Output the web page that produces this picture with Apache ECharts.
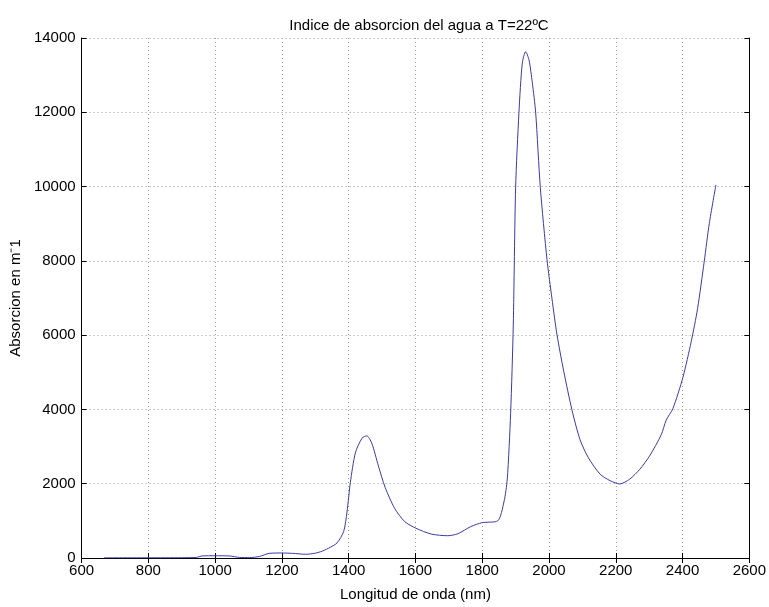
<!DOCTYPE html>
<html>
<head>
<meta charset="utf-8">
<script src="https://cdn.jsdelivr.net/npm/echarts@6/dist/echarts.min.js"></script>
<style>
  html, body { margin: 0; padding: 0; background: #fff; }
  #main { width: 769px; height: 607px; }
</style>
</head>
<body>
<div id="main"></div>
<script>
var longitudes = [667, 700, 800, 900, 944, 960, 1000, 1043, 1073, 1103, 1132, 1162, 1200, 1232, 1271, 1300,
  1321, 1345, 1365, 1385, 1395, 1405, 1420, 1440, 1454, 1469, 1489, 1509, 1538, 1568, 1601, 1648,
  1697, 1727, 1766, 1800, 1846, 1865, 1875, 1885, 1893, 1900, 1910, 1920, 1930, 1940, 1950, 1960,
  1974, 1994, 2009, 2024, 2044, 2069, 2093, 2118, 2153, 2183, 2212, 2242, 2272, 2301, 2336, 2351,
  2371, 2401, 2426, 2445, 2465, 2480, 2500];
var absorcion = [5, 5, 5, 8, 15, 55, 60, 55, 15, 12, 40, 125, 135, 125, 100, 130,
  185, 290, 405, 715, 1243, 2037, 2830, 3227, 3290, 3095, 2478, 1905, 1330, 979, 802, 643,
  600, 653, 847, 952, 997, 1508, 2124, 3889, 6270, 9974, 12000, 13325, 13632, 13413, 12796, 12000,
  9974, 8034, 6976, 6005, 5034, 3976, 3183, 2698, 2257, 2082, 1993, 2124, 2389, 2743, 3315, 3712,
  4021, 4860, 5828, 6711, 7989, 9003, 10045];

var ticksX = { min: 600, max: 2600, interval: 200 };
var ticksY = { min: 0, max: 14000, interval: 2000 };

var puntos = longitudes.map(function (x, i) { return [x, absorcion[i]]; });

var chart = echarts.init(document.getElementById('main'), null, { renderer: 'canvas' });

var fuente = 'Liberation Sans, Arial, sans-serif';
var gridLinea = { show: true, lineStyle: { color: '#9a9a9a', type: [1, 3], width: 1 } };
var sinComas = function (v) { return String(v); };

var option = {
  animation: false,
  title: {
    text: 'Indice de absorcion del agua a T=22ºC',
    left: 414,
    top: 13,
    textAlign: 'center',
    textStyle: { fontFamily: fuente, fontSize: 15, fontWeight: 'normal', color: '#000' }
  },
  grid: { left: 77, right: 18, top: 38, bottom: 40, containLabel: false },
  xAxis: [
    {
      type: 'value',
      min: ticksX.min, max: ticksX.max, interval: ticksX.interval,
      position: 'bottom',
      name: 'Longitud de onda (nm)',
      nameLocation: 'middle',
      nameGap: 29,
      nameTextStyle: { fontFamily: fuente, fontSize: 15, color: '#000' },
      axisLine: { lineStyle: { color: '#000', width: 1 } },
      axisTick: { inside: true, length: 5, lineStyle: { color: '#000' } },
      axisLabel: { fontFamily: fuente, fontSize: 15, color: '#000', margin: 5, formatter: sinComas },
      splitLine: gridLinea
    },
    {
      type: 'value',
      min: ticksX.min, max: ticksX.max, interval: ticksX.interval,
      position: 'top',
      axisLine: { show: true, lineStyle: { color: '#000', width: 1 } },
      axisTick: { show: true, inside: true, length: 5, lineStyle: { color: '#000' } },
      axisLabel: { show: false },
      splitLine: { show: false }
    }
  ],
  yAxis: [
    {
      type: 'value',
      min: ticksY.min, max: ticksY.max, interval: ticksY.interval,
      position: 'left',
      name: 'Absorcion en m⁻1',
      nameLocation: 'middle',
      nameGap: 50,
      nameTextStyle: { fontFamily: fuente, fontSize: 15, color: '#000' },
      axisLine: { show: true, lineStyle: { color: '#000', width: 1 } },
      axisTick: { show: true, inside: true, length: 5, lineStyle: { color: '#000' } },
      axisLabel: { fontFamily: fuente, fontSize: 15, color: '#000', margin: 6, formatter: sinComas },
      splitLine: gridLinea
    },
    {
      type: 'value',
      min: ticksY.min, max: ticksY.max, interval: ticksY.interval,
      position: 'right',
      axisLine: { show: true, lineStyle: { color: '#000', width: 1 } },
      axisTick: { show: true, inside: true, length: 5, lineStyle: { color: '#000' } },
      axisLabel: { show: false },
      splitLine: { show: false }
    }
  ],
  series: [
    {
      type: 'line',
      data: puntos,
      smooth: 0.25,
      showSymbol: false,
      lineStyle: { color: '#3a3aa8', width: 1 },
      itemStyle: { color: '#3a3aa8' }
    }
  ]
};

chart.setOption(option);
</script>
</body>
</html>
